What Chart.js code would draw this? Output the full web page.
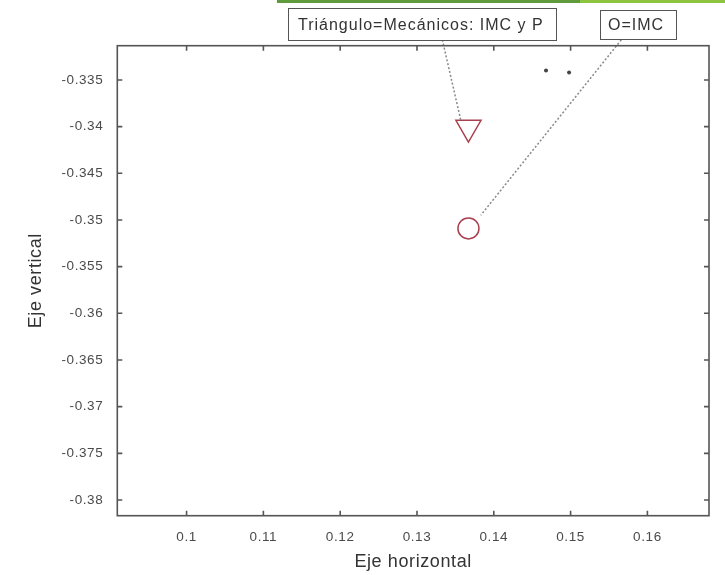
<!DOCTYPE html>
<html>
<head>
<meta charset="utf-8">
<script src="https://cdn.jsdelivr.net/npm/chart.js@4"></script>
<style>
  body { margin: 0; background: #fff; }
  #wrap { position: relative; width: 725px; height: 575px; }
  .bar { position: absolute; top: 0; height: 3px; }
  .note { position: absolute; border: 1px solid #555; background: #fff;
          font: 16px "Liberation Sans", Arial, sans-serif; letter-spacing: 1px; color: #333;
          box-sizing: border-box; display: flex; align-items: center; white-space: nowrap; }
</style>
</head>
<body>
<div id="wrap">
  <div class="bar" style="left:277px;width:303px;background:#5f9a3c"></div>
  <div class="bar" style="left:580px;width:145px;background:#8cc43f"></div>
  <canvas id="chart" width="725" height="575"></canvas>
  <div class="note" style="left:288px;top:8px;width:269px;height:33px;padding-left:9px">Triángulo=Mecánicos: IMC y P</div>
  <div class="note" style="left:600px;top:10px;width:77px;height:30px;padding-left:7px">O=IMC</div>
</div>
<script>
// axis ranges and ticks
const xRange = [0.09098, 0.16802];
const yRange = [-0.38168, -0.33133];
const xTicks = [0.1, 0.11, 0.12, 0.13, 0.14, 0.15, 0.16];
const yTicks = [-0.38, -0.375, -0.37, -0.365, -0.36, -0.355, -0.35, -0.345, -0.34, -0.335];

// markers
const triX = [0.1367];
const triY = [-0.3401];
const circX = [0.1367];
const circY = [-0.3509];
const dotX = [0.1468, 0.1498];
const dotY = [-0.3340, -0.3342];

// leader lines from the text boxes
const lead1X = [0.1333, 0.1357];
const lead1Y = [-0.3307, -0.3393];
const lead2X = [0.1566, 0.1383];
const lead2Y = [-0.3307, -0.3495];

const pts = (xs, ys) => xs.map((x, i) => ({ x: x, y: ys[i] }));

// wider letter spacing for all canvas text
const spacingPlugin = {
  id: "spacing",
  beforeInit(chart) { chart.ctx.letterSpacing = "0.6px"; },
  beforeDraw(chart) { chart.ctx.letterSpacing = "0.6px"; }
};

// box around the plot with small inward ticks on all four sides
const framePlugin = {
  id: "frame",
  afterDatasetsDraw(chart) {
    const { ctx, chartArea: a, scales } = chart;
    ctx.save();
    ctx.strokeStyle = "#555";
    ctx.lineWidth = 1.6;
    ctx.strokeRect(a.left, a.top, a.right - a.left, a.bottom - a.top);
    const t = 5;
    ctx.beginPath();
    xTicks.forEach(v => {
      const px = scales.x.getPixelForValue(v);
      ctx.moveTo(px, a.bottom); ctx.lineTo(px, a.bottom - t);
      ctx.moveTo(px, a.top); ctx.lineTo(px, a.top + t);
    });
    yTicks.forEach(v => {
      const py = scales.y.getPixelForValue(v);
      ctx.moveTo(a.left, py); ctx.lineTo(a.left + t, py);
      ctx.moveTo(a.right, py); ctx.lineTo(a.right - t, py);
    });
    ctx.stroke();
    ctx.restore();
  }
};

const lineStyle = {
  type: "line", showLine: true, borderColor: "#888", borderWidth: 1.5,
  borderDash: [2, 2], pointRadius: 0, clip: false, fill: false
};

new Chart(document.getElementById("chart"), {
  type: "scatter",
  data: {
    datasets: [
      Object.assign({ data: pts(lead1X, lead1Y) }, lineStyle),
      Object.assign({ data: pts(lead2X, lead2Y) }, lineStyle),
      { data: pts(triX, triY), pointStyle: "triangle", rotation: 180, pointRadius: 14.5,
        borderColor: "#a8404f", borderWidth: 1.5, backgroundColor: "rgba(0,0,0,0)" },
      { data: pts(circX, circY), pointStyle: "circle", pointRadius: 10.5,
        borderColor: "#a8404f", borderWidth: 1.5, backgroundColor: "rgba(0,0,0,0)" },
      { data: pts(dotX, dotY), pointRadius: 2, borderWidth: 0, backgroundColor: "#444" }
    ]
  },
  options: {
    responsive: false,
    animation: false,
    devicePixelRatio: 1,
    layout: { padding: { top: 45.7, right: 15, left: 0, bottom: 0 } },
    plugins: { legend: { display: false }, tooltip: { enabled: false } },
    scales: {
      x: {
        type: "linear", min: xRange[0], max: xRange[1],
        grid: { display: false, drawTicks: false }, border: { display: false },
        afterBuildTicks: s => { s.ticks = xTicks.map(v => ({ value: v })); },
        afterFit: s => { s.height = 59.3; },
        ticks: { color: "#4a4a4a", padding: 13, maxRotation: 0,
                 font: { family: "Liberation Sans", size: 13.5 }, callback: v => String(v) },
        title: { display: true, text: "Eje horizontal", color: "#333", padding: { top: 0, bottom: 2 },
                 font: { family: "Liberation Sans", size: 18 } }
      },
      y: {
        type: "linear", min: yRange[0], max: yRange[1],
        grid: { display: false, drawTicks: false }, border: { display: false },
        afterBuildTicks: s => { s.ticks = yTicks.map(v => ({ value: v })); },
        afterFit: s => { s.width = 117.3; },
        ticks: { color: "#4a4a4a", padding: 14,
                 font: { family: "Liberation Sans", size: 13.5 }, callback: v => String(v) },
        title: { display: true, text: "Eje vertical", color: "#333", padding: { top: 25, bottom: 0 },
                 font: { family: "Liberation Sans", size: 18 } }
      }
    }
  },
  plugins: [spacingPlugin, framePlugin]
});
</script>
</body>
</html>
